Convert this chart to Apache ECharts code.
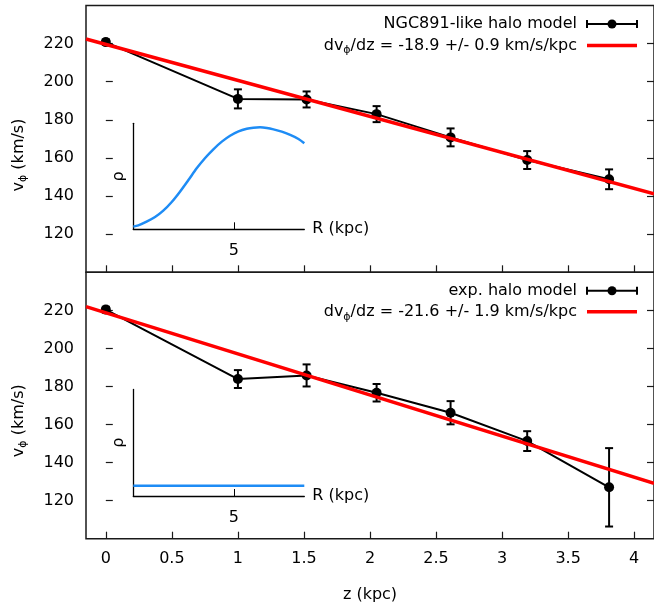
<!DOCTYPE html>
<html>
<head>
<meta charset="utf-8">
<script src="https://cdn.jsdelivr.net/npm/echarts@6/dist/echarts.min.js"></script>
<style>
  html, body { margin: 0; padding: 0; background: #fff; }
  #chart { width: 654px; height: 605px; }
</style>
</head>
<body>
<div id="chart"></div>
<script>
// Rotation velocity vs. height above the plane, for two halo models
const zVals   = [0, 1.0, 1.52, 2.05, 2.61, 3.19, 3.81];
const ngcV    = [220.8, 191.0, 190.7, 183.0, 170.8, 158.9, 148.8];
const ngcErr  = [1.4, 5.0, 4.2, 4.2, 4.7, 4.7, 5.2];
const expV    = [220.4, 183.9, 185.8, 176.7, 166.2, 151.3, 127.0];
const expErr  = [1.5, 4.7, 5.8, 4.6, 6.1, 5.2, 20.6];

// Linear fits: v = intercept + slope * z
const fitSlopes     = [-18.9, -21.6];
const fitSlopeErrs  = [0.9, 1.9];
const fitIntercepts = [219.6, 218.7];
const modelNames    = ['NGC891-like halo model', 'exp. halo model'];

// Axis ticks
const xTicks = [0, 0.5, 1, 1.5, 2, 2.5, 3, 3.5, 4];
const yTicks = [120, 140, 160, 180, 200, 220];
const zRange = [-0.15, 4.15];
const vRange = [100, 240];

// Inset density profiles rho(R), arbitrary units
const ringR   = [0, 0.25, 0.66, 1.08, 1.49, 1.91, 2.32, 2.74, 3.15, 3.57, 3.98, 4.40,
                 4.81, 5.23, 5.64, 5.97, 6.30, 6.64, 6.97, 7.38, 7.80, 8.21, 8.5];
const ringRho = [0.025, 0.037, 0.072, 0.116, 0.176, 0.258, 0.355, 0.465, 0.575, 0.673, 0.755, 0.827,
                 0.883, 0.924, 0.949, 0.959, 0.962, 0.956, 0.943, 0.921, 0.890, 0.852, 0.811];
const expR    = [0, 8.5];
const expRho  = [0.097, 0.097];
const insetTicks = [5];

const FONT = 'DejaVu Sans';
const INK = '#1a1a1a';
const BLUE = '#1e8cf5';

const zip = (a, b) => a.map((v, i) => [v, b[i]]);
const zip3 = (a, b, c) => a.map((v, i) => [v, b[i], c[i]]);
const fitLine = (k) => zRange.map(z => [z, fitIntercepts[k] + fitSlopes[k] * z]);

const mainGrids = [
  { left: 86, top: 5.5, width: 571, height: 266.8 },
  { left: 86, top: 272.3, width: 571, height: 266.4 }
];
const insetGrids = [
  { left: 133.3, top: 123.3, width: 171, height: 106 },
  { left: 133.3, top: 389.5, width: 171, height: 106.5 }
];

const grid = [];
mainGrids.forEach(g => grid.push(Object.assign({ show: true, borderColor: INK, borderWidth: 1.5, backgroundColor: 'transparent' }, g)));
insetGrids.forEach(g => grid.push(Object.assign({ show: false }, g)));

const xAxis = [];
const yAxis = [];
[0, 1].forEach(k => {
  xAxis.push({
    type: 'value', gridIndex: k, min: zRange[0], max: zRange[1],
    axisLine: { show: false },
    splitLine: { show: false },
    axisTick: { show: true, inside: true, length: 7, customValues: xTicks, lineStyle: { color: INK, width: 1.2 } },
    axisLabel: { show: k === 1, customValues: xTicks, margin: 12, fontFamily: FONT, fontSize: 16, color: '#000' },
    name: k === 1 ? 'z (kpc)' : '',
    nameLocation: 'middle', nameGap: 48,
    nameTextStyle: { fontFamily: FONT, fontSize: 16, color: '#000' }
  });
  yAxis.push({
    type: 'value', gridIndex: k, min: vRange[0], max: vRange[1],
    axisLine: { show: false },
    splitLine: { show: false },
    axisTick: { show: true, inside: true, length: 7, customValues: yTicks, lineStyle: { color: INK, width: 1.2 } },
    axisLabel: { show: true, customValues: yTicks, margin: 12, fontFamily: FONT, fontSize: 16, color: '#000' }
  });
  // mirrored ticks on the right-hand border
  yAxis.push({
    type: 'value', gridIndex: k, min: vRange[0], max: vRange[1], position: 'right',
    axisLine: { show: false },
    splitLine: { show: false },
    axisTick: { show: true, inside: true, length: 7, customValues: yTicks, lineStyle: { color: INK, width: 1.2 } },
    axisLabel: { show: false }
  });
});
[0, 1].forEach(k => {
  xAxis.push({
    type: 'value', gridIndex: 2 + k, min: 0, max: 8.5,
    axisLine: { show: true, lineStyle: { color: '#000', width: 1.3 } },
    splitLine: { show: false },
    axisTick: { show: true, inside: true, length: 7, customValues: insetTicks, lineStyle: { color: '#000', width: 1 } },
    axisLabel: { show: true, customValues: insetTicks, margin: 14, fontFamily: FONT, fontSize: 16, color: '#000' },
    name: 'R (kpc)', nameLocation: 'end', nameGap: 8,
    nameTextStyle: { fontFamily: FONT, fontSize: 16, color: '#000', verticalAlign: 'middle' }
  });
  yAxis.push({
    type: 'value', gridIndex: 2 + k, min: 0, max: 1,
    axisLine: { show: true, lineStyle: { color: '#000', width: 1.3 } },
    splitLine: { show: false },
    axisTick: { show: false },
    axisLabel: { show: false },
    name: 'ρ', nameLocation: 'middle', nameRotate: 90, nameGap: 6,
    nameTextStyle: { fontFamily: FONT, fontSize: 16, color: '#000' }
  });
});

function errorBarItem(params, api) {
  const z = api.value(0), v = api.value(1), e = api.value(2);
  const hi = api.coord([z, v + e]);
  const lo = api.coord([z, v - e]);
  const cap = 4;
  const st = { stroke: '#000', lineWidth: 2 };
  return {
    type: 'group',
    children: [
      { type: 'line', shape: { x1: hi[0], y1: hi[1], x2: lo[0], y2: lo[1] }, style: st },
      { type: 'line', shape: { x1: hi[0] - cap, y1: hi[1], x2: hi[0] + cap, y2: hi[1] }, style: st },
      { type: 'line', shape: { x1: lo[0] - cap, y1: lo[1], x2: lo[0] + cap, y2: lo[1] }, style: st }
    ]
  };
}

const modelData = [[ngcV, ngcErr], [expV, expErr]];
const series = [];
[0, 1].forEach(k => {
  const [vals, errs] = modelData[k];
  series.push({
    type: 'custom', xAxisIndex: k, yAxisIndex: 2 * k, z: 3,
    renderItem: errorBarItem,
    data: zip3(zVals, vals, errs),
    silent: true, animation: false
  });
  series.push({
    type: 'line', xAxisIndex: k, yAxisIndex: 2 * k, z: 4,
    data: zip(zVals, vals),
    symbol: 'circle', symbolSize: 10,
    itemStyle: { color: '#000' },
    lineStyle: { color: '#000', width: 2 },
    silent: true, animation: false
  });
  series.push({
    type: 'line', xAxisIndex: k, yAxisIndex: 2 * k, z: 5,
    data: fitLine(k),
    symbol: 'none', clip: true,
    lineStyle: { color: '#ff0000', width: 3.5 },
    silent: true, animation: false
  });
});
series.push({
  type: 'line', xAxisIndex: 2, yAxisIndex: 4,
  data: zip(ringR, ringRho), smooth: 0.3, symbol: 'none',
  lineStyle: { color: BLUE, width: 2.5 }, silent: true, animation: false
});
series.push({
  type: 'line', xAxisIndex: 3, yAxisIndex: 5,
  data: zip(expR, expRho), symbol: 'none',
  lineStyle: { color: BLUE, width: 2.5 }, silent: true, animation: false
});

// Labels and key entries
const rich = {
  n: { fontFamily: FONT, fontSize: 16, color: '#000' },
  s: { fontFamily: FONT, fontSize: 11, color: '#000', padding: [10, 0, 0, 0] }
};
const graphic = [];
const vLabelCenters = [155, 420.7];
vLabelCenters.forEach(cy => {
  graphic.push({
    type: 'text', x: 18.5, y: cy, rotation: Math.PI / 2,
    style: { text: '{n|v}{s|ϕ}{n| (km/s)}', rich, align: 'center', verticalAlign: 'middle' }
  });
});
const keyRows = [[24, 45.5], [290.7, 311.7]];
[0, 1].forEach(k => {
  const [r1, r2] = keyRows[k];
  const slopeTxt = `{n|dv}{s|ϕ}{n|/dz = ${fitSlopes[k].toFixed(1)} +/- ${fitSlopeErrs[k].toFixed(1)} km/s/kpc}`;
  graphic.push({ type: 'text', x: 577, y: r1, style: { text: modelNames[k], font: `16px "${FONT}"`, fill: '#000', align: 'right', verticalAlign: 'middle' } });
  graphic.push({ type: 'text', x: 577, y: r2, style: { text: slopeTxt, rich, align: 'right', verticalAlign: 'middle' } });
  const st = { stroke: '#000', lineWidth: 2 };
  graphic.push({ type: 'line', shape: { x1: 587, y1: r1, x2: 637, y2: r1 }, style: st });
  graphic.push({ type: 'line', shape: { x1: 587, y1: r1 - 4, x2: 587, y2: r1 + 4 }, style: st });
  graphic.push({ type: 'line', shape: { x1: 637, y1: r1 - 4, x2: 637, y2: r1 + 4 }, style: st });
  graphic.push({ type: 'circle', shape: { cx: 612, cy: r1, r: 4.5 }, style: { fill: '#000' } });
  graphic.push({ type: 'line', shape: { x1: 587, y1: r2, x2: 637, y2: r2 }, style: { stroke: '#ff0000', lineWidth: 3.5 } });
});

const chart = echarts.init(document.getElementById('chart'), null, { renderer: 'canvas' });
chart.setOption({
  backgroundColor: '#fff',
  animation: false,
  textStyle: { fontFamily: FONT },
  grid, xAxis, yAxis, series, graphic
});
</script>
</body>
</html>
